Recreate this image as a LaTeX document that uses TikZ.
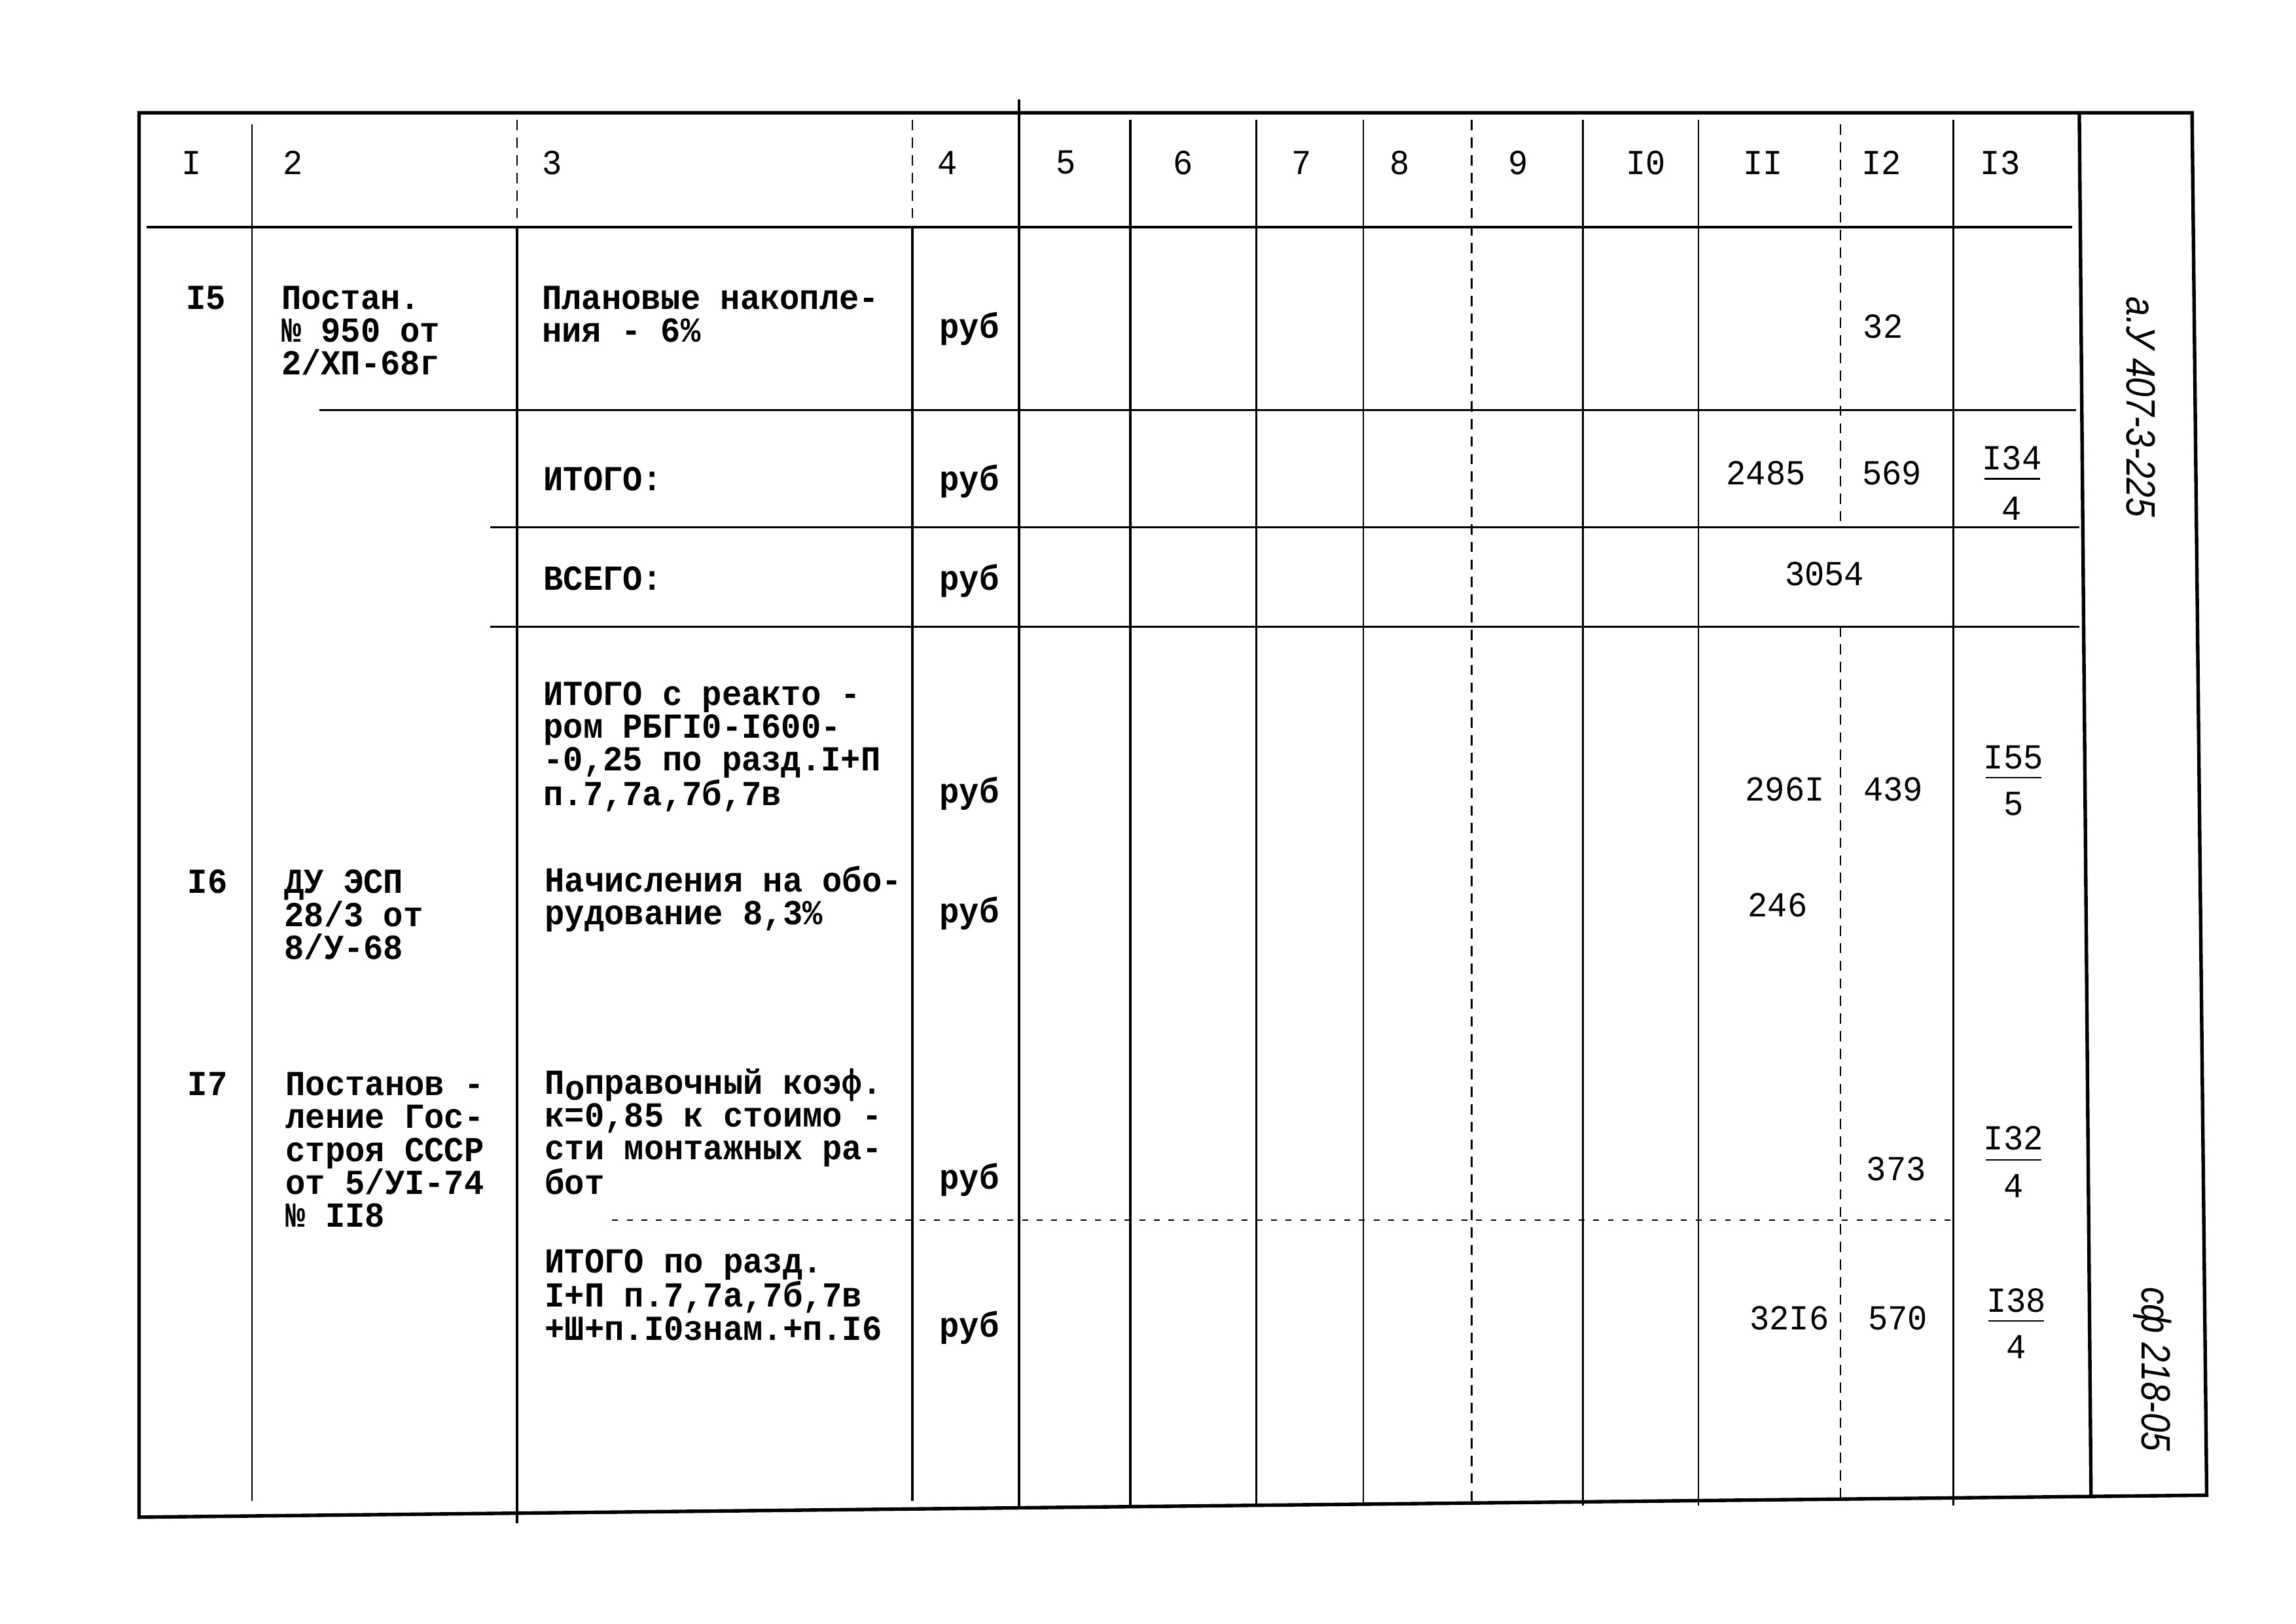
\documentclass[tikz,border=0pt]{standalone}
\usepackage{fontspec}
\newfontfamily\tw[FakeStretch=0.94]{Liberation Mono}
\newfontfamily\hw[FakeStretch=0.85]{Liberation Sans}
\begin{document}
\begin{tikzpicture}[x=1pt,y=-1pt,
  frame/.style={line width=2.4pt,line cap=round},
  rule/.style={line width=1.7pt},
  thinrule/.style={line width=1pt},
  dashrule/.style={line width=1pt,dash pattern=on 7pt off 5pt},
  dotrule/.style={line width=1pt,dash pattern=on 4pt off 6pt},
  txt/.style={font=\tw\bfseries\fontsize{24}{22.5}\selectfont,align=left,anchor=base west,inner sep=0pt},
  hdr/.style={font=\tw\fontsize{24}{22}\selectfont,inner sep=0pt},
  num/.style={font=\tw\fontsize{24}{22}\selectfont,inner sep=0pt},
  rub/.style={font=\tw\bfseries\fontsize{24}{22}\selectfont,anchor=base,inner sep=0pt},
  side/.style={font=\hw\itshape\fontsize{28}{28}\selectfont,rotate=-90,inner sep=0pt}]
\useasboundingbox (0,0) rectangle (1568,1108.6);
\fill[white] (0,0) rectangle (1568,1108.6);
% outer frame
\draw[frame] (95,77) -- (1497,77) -- (1507,1021) -- (95,1036) -- cycle;
\draw[frame] (1420,77) -- (1428,1022);
% vertical rules
\draw[thinrule] (172,85) -- (172,1025);
\draw[dashrule] (353,82) -- (353,155);
\draw[rule] (353,155) -- (353,1040);
\draw[dashrule] (623,82) -- (623,155);
\draw[rule] (623,155) -- (623,1025);
\draw[rule] (696,68) -- (696,1030);
\draw[rule] (772,82) -- (772,1028);
\draw[rule] (858,82) -- (858,1028);
\draw[thinrule] (931,82) -- (931,1028);
\draw[dashrule] (1005,82) -- (1005,1028);
\draw[rule] (1081,82) -- (1081,1028);
\draw[thinrule] (1160,82) -- (1160,1028);
\draw[dashrule] (1257,85) -- (1257,360);
\draw[dashrule] (1257,428) -- (1257,1028);
\draw[rule] (1334,82) -- (1334,1028);
% horizontal rules
\draw[rule] (100,155) -- (1415,155);
\draw[rule] (218,280) -- (1418,280);
\draw[rule] (335,360) -- (1420,360);
\draw[rule] (335,428) -- (1420,428);
\draw[dotrule] (418,833) -- (1335,833);
% header
\node[hdr] (h1) at (131,111) {I};
\node[hdr] (h2) at (200,111) {2};
\node[hdr] (h3) at (377,111) {3};
\node[hdr] (h4) at (647,111) {4};
\node[hdr] (h5) at (728,111) {5};
\node[hdr] (h6) at (808,111) {6};
\node[hdr] (h7) at (889,111) {7};
\node[hdr] (h8) at (956,111) {8};
\node[hdr] (h9) at (1037,111) {9};
\node[hdr] (h10) at (1124,111) {I0};
\node[hdr] (h11) at (1204,111) {II};
\node[hdr] (h12) at (1285,111) {I2};
\node[hdr] (h13) at (1366,111) {I3};
% row I5 (multi-line nodes are placed by the baseline of their last line)
\node[txt] (n15) at (127,211) {I5};
\node[txt] (d15) at (192,256) {Постан.\\№ 950 от\\2/ХП-68г};
\node[txt] (t15) at (370,233.5) {Плановые накопле-\\ния - 6\%};
\node[rub] (r15) at (662,231) {руб};
\node[num] (c12a) at (1286,223) {32};
% ИТОГО
\node[txt] (tit) at (371,335) {ИТОГО:};
\node[rub] (rit) at (662,335) {руб};
\node[num] (c11b) at (1206,323) {2485};
\node[num] (c12b) at (1292,323) {569};
\node[num] (f1a) at (1374,313) {I34};
\node[num] (f1b) at (1374,347) {4};
\draw[thinrule] (1355,327) -- (1393,327);
% ВСЕГО
\node[txt] (tvs) at (371,403) {ВСЕГО:};
\node[rub] (rvs) at (662,403) {руб};
\node[num] (c11c) at (1246,392) {3054};
% reactor row
\node[txt] (tre) at (371,550) {ИТОГО с реакто -\\ром РБГI0-I600-\\-0,25 по разд.I+П\\п.7,7а,7б,7в};
\node[rub] (rre) at (662,548) {руб};
\node[num] (c11d) at (1219,539) {296I};
\node[num] (c12d) at (1293,539) {439};
\node[num] (f2a) at (1375,517) {I55};
\node[num] (f2b) at (1375,549) {5};
\draw[thinrule] (1356,531) -- (1394,531);
% row I6
\node[txt] (n16) at (128,610) {I6};
\node[txt] (d16) at (194,655) {ДУ ЭСП\\28/3 от\\8/У-68};
\node[txt] (t16) at (372,631.5) {Начисления на обо-\\рудование 8,3\%};
\node[rub] (r16) at (662,630) {руб};
\node[num] (c11e) at (1214,618) {246};
% row I7
\node[txt] (n17) at (128,748) {I7};
\node[txt] (d17) at (195,838) {Постанов -\\ление Гос-\\строя СССР\\от 5/УI-74\\№ II8};
\node[txt] (t17) at (372,815.5) {П\raisebox{-0.35ex}{о}правочный коэф.\\к=0,85 к стоимо -\\сти монтажных ра-\\бот};
\node[rub] (r17) at (662,812) {руб};
\node[num] (c12f) at (1295,798) {373};
\node[num] (f3a) at (1375,777) {I32};
\node[num] (f3b) at (1375,810) {4};
\draw[thinrule] (1356,792) -- (1394,792);
% last row
\node[txt] (tla) at (372,915) {ИТОГО по разд.\\I+П п.7,7а,7б,7в\\+Ш+п.I0знам.+п.I6};
\node[rub] (rla) at (662,913) {руб};
\node[num] (c11g) at (1222,900) {32I6};
\node[num] (c12g) at (1296,900) {570};
\node[num] (f4a) at (1377,888) {I38};
\node[num] (f4b) at (1377,920) {4};
\draw[thinrule] (1358,902) -- (1396,902);
% side column
\node[side] (s1) at (1462,278) {а.У 407-3-225};
\node[side] (s2) at (1470,935) {сф 218-05};
\end{tikzpicture}
\end{document}
